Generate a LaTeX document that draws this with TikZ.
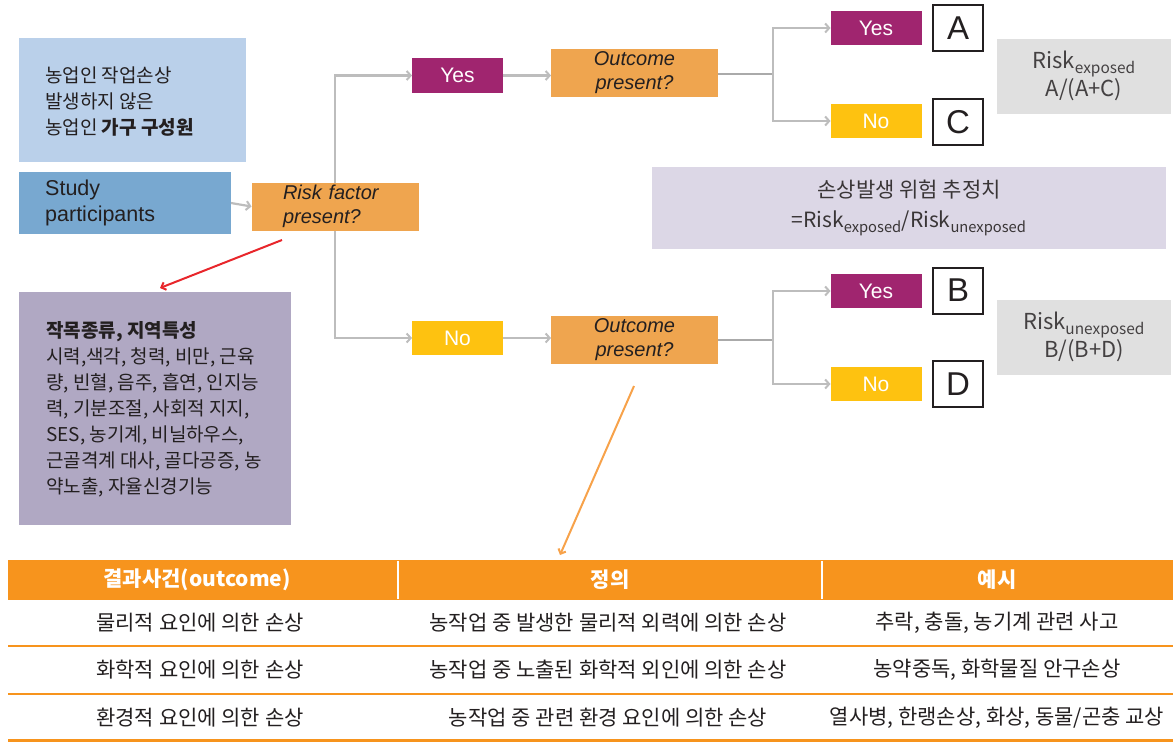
\documentclass[tikz,border=0pt]{standalone}
\usepackage{fontspec}
\setmainfont{Noto Sans CJK KR}
\newfontfamily\lat{Liberation Sans}
\usetikzlibrary{arrows.meta}
\definecolor{lblue}{HTML}{BAD0EA}
\definecolor{sblue}{HTML}{78A8D0}
\definecolor{obox}{HTML}{EFA54F}
\definecolor{mag}{HTML}{A0256F}
\definecolor{yel}{HTML}{FEC210}
\definecolor{lgray}{HTML}{E0E0E0}
\definecolor{lpur}{HTML}{DCD7E6}
\definecolor{dpur}{HTML}{B0A8C3}
\definecolor{torange}{HTML}{F7941D}
\definecolor{conn}{HTML}{BDBDBD}
\definecolor{txt}{HTML}{231F20}
\definecolor{redarr}{HTML}{E8262B}
\definecolor{oarr}{HTML}{F7A24A}
\tikzset{
  box/.style={inner sep=0pt, outer sep=0pt},
  conn/.style={draw=conn, line width=2.2pt, -{Straight Barb[length=4pt,width=9pt,line width=2pt]}},
  connplain/.style={draw=conn!90!black, line width=2.2pt},
  yesbox/.style={box, fill=mag, minimum width=91pt, minimum height=35pt, text=white, font=\lat\fontsize{21}{24}\selectfont},
  nobox/.style={box, fill=yel, minimum width=91pt, minimum height=34pt, text=white, font=\lat\fontsize{21}{24}\selectfont},
  letbox/.style={box, draw=txt, line width=2pt, fill=white, minimum width=50pt, minimum height=46pt, text=txt, font=\lat\fontsize{33}{34}\selectfont},
  qbox/.style={box, fill=obox, minimum width=167pt, minimum height=48pt, text=txt, font=\lat\itshape\fontsize{20}{24}\selectfont, align=center},
  riskbox/.style={box, fill=lgray, minimum width=174pt, minimum height=75pt, text=txt!85, font=\fontsize{22}{28}\selectfont, align=center},
  th/.style={text=white, font=\bfseries\fontsize{21}{24}\selectfont, anchor=center},
  td/.style={text=txt, font=\fontsize{21}{24}\selectfont, anchor=center},
}
\begin{document}
\begin{tikzpicture}[x=1pt,y=-1pt]
\useasboundingbox (0,0) rectangle (1173,742);
% left column
\node[box, fill=lblue, minimum width=227pt, minimum height=124pt] (kor) at (132.5,100) {};
\node[anchor=west, align=left, text=txt, font=\fontsize{19}{26}\selectfont, inner sep=0pt] (kortxt) at (45,102) {농업인 작업손상\\발생하지 않은\\농업인 \textbf{가구 구성원}};
\node[box, fill=sblue, minimum width=212pt, minimum height=62pt] (study) at (125,203) {};
\node[anchor=west, align=left, text=txt, font=\lat\fontsize{21.5}{26}\selectfont, inner sep=0pt] (studytxt) at (45,203) {Study\\participants};
\node[qbox, align=left, text width=104pt] (risk) at (335,206.5) {Risk factor\\present?};
% upper branch
\node[yesbox] (yes1) at (457.5,75.5) {Yes};
\node[qbox] (out1) at (634.5,73) {Outcome\\present?};
\node[yesbox, minimum height=34pt] (yesA) at (876,28) {Yes};
\node[nobox] (noC) at (876,121) {No};
\node[letbox] (A) at (958,28) {A};
\node[letbox] (C) at (958,122) {C};
\node[riskbox] (g1) at (1084,76) {Risk\textsubscript{exposed}\\A/(A+C)};
\node[box, fill=lpur, minimum width=514pt, minimum height=82pt, text=txt!90, font=\fontsize{21}{30}\selectfont, align=center] (est) at (909,208) {손상발생 위험 추정치\\=Risk\textsubscript{exposed}/Risk\textsubscript{unexposed}};
% lower branch
\node[nobox] (no1) at (457.5,338) {No};
\node[qbox] (out2) at (634.5,340) {Outcome\\present?};
\node[yesbox, minimum height=34pt] (yesB) at (876,291) {Yes};
\node[nobox] (noD) at (876,384) {No};
\node[letbox] (B) at (958,290.5) {B};
\node[letbox] (D) at (958,384) {D};
\node[riskbox] (g2) at (1084,337) {Risk\textsubscript{unexposed}\\B/(B+D)};
% factors box
\node[box, fill=dpur, minimum width=272pt, minimum height=233pt] (fac) at (155,408.5) {};
\node[anchor=north west, align=left, text=txt, font=\fontsize{19}{26}\selectfont, inner sep=0pt] (factxt) at (46,321) {\textbf{작목종류, 지역특성}\\시력,색각, 청력, 비만, 근육\\량, 빈혈, 음주, 흡연, 인지능\\력, 기분조절, 사회적 지지,\\SES, 농기계, 비닐하우스,\\근골격계 대사, 골다공증, 농\\약노출, 자율신경기능};
% connectors
\draw[conn] (study.east) -- (risk.west);
\draw[conn] (risk.north) |- (yes1.west);
\draw[conn] (risk.south) |- (no1.west);
\draw[conn] (yes1.east) -- (out1.west |- yes1.east);
\draw[conn] (no1.east) -- (out2.west |- no1.east);
\coordinate (j1) at (773,74);
\coordinate (j2) at (773,340);
\draw[connplain] (out1.east |- j1) -- (j1);
\draw[connplain] (out2.east) -- (j2);
\draw[conn] (j1) |- (yesA.west);
\draw[conn] (j1) |- (noC.west);
\draw[conn] (j2) |- (yesB.west);
\draw[conn] (j2) |- (noD.west);
% pointer arrows
\coordinate (r1) at (282,240);
\coordinate (r2) at (160,288);
\draw[redarr, line width=2pt, -{Straight Barb[length=4pt,width=8pt]}] (r1) -- (r2);
\coordinate (o1) at (634,386);
\coordinate (o2) at (560,555);
\draw[oarr, line width=2pt, -{Straight Barb[length=4pt,width=8pt]}] (o1) -- (o2);
% table
\fill[torange] (8,560) rectangle (1173,600);
\draw[white, line width=2pt] (398,561) -- (398,599);
\draw[white, line width=2pt] (822,561) -- (822,599);
\draw[torange, line width=1.2pt] (8,646) -- (1173,646);
\draw[torange, line width=1.2pt] (8,694) -- (1173,694);
\draw[torange, line width=3pt] (8,740) -- (1173,740);
\node[th] (h1) at (197,580) {결과사건(outcome)};
\node[th] (h2) at (610,580) {정의};
\node[th] (h3) at (997,580) {예시};
\node[td] (c11) at (200,623) {물리적 요인에 의한 손상};
\node[td] (c12) at (608,623) {농작업 중 발생한 물리적 외력에 의한 손상};
\node[td] (c13) at (997,623) {추락, 충돌, 농기계 관련 사고};
\node[td] (c21) at (200,670) {화학적 요인에 의한 손상};
\node[td] (c22) at (608,670) {농작업 중 노출된 화학적 외인에 의한 손상};
\node[td] (c23) at (997,670) {농약중독, 화학물질 안구손상};
\node[td] (c31) at (200,718) {환경적 요인에 의한 손상};
\node[td] (c32) at (608,718) {농작업 중 관련 환경 요인에 의한 손상};
\node[td] (c33) at (997,718) {열사병, 한랭손상, 화상, 동물/곤충 교상};
\end{tikzpicture}
\end{document}
